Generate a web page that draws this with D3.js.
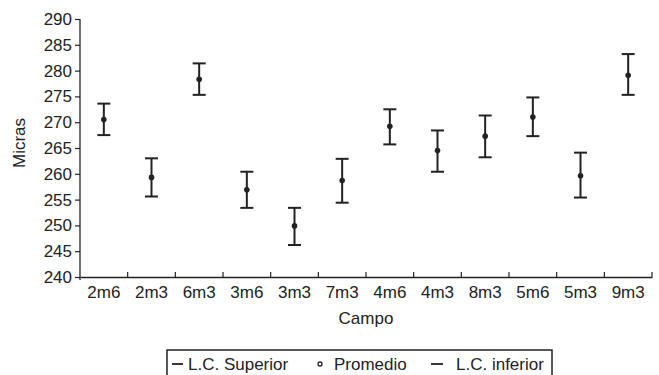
<!DOCTYPE html>
<html>
<head>
<meta charset="utf-8">
<script src="https://cdn.jsdelivr.net/npm/d3@7/dist/d3.min.js"></script>
<style>
  body { margin: 0; background: #fff; }
  svg text { font-family: "Liberation Sans", Arial, sans-serif; fill: #222; }
</style>
</head>
<body>
<svg id="chart" width="659" height="375"></svg>
<script>
const campos = ['2m6', '2m3', '6m3', '3m6', '3m3', '7m3', '4m6', '4m3', '8m3', '5m6', '5m3', '9m3'];
const promedio = [270.5, 259.3, 278.3, 256.9, 249.9, 258.7, 269.2, 264.5, 267.3, 271.0, 259.6, 279.1];
const lcSuperior = [273.6, 263.0, 281.4, 260.4, 253.4, 262.9, 272.5, 268.4, 271.3, 274.8, 264.1, 283.2];
const lcInferior = [267.5, 255.6, 275.3, 253.4, 246.2, 254.4, 265.7, 260.4, 263.2, 267.3, 255.4, 275.3];
const yTicks = [240, 245, 250, 255, 260, 265, 270, 275, 280, 285, 290];

const svg = d3.select('#chart');
const ink = '#222';
const fs = '17px';

const x = d3.scaleBand().domain(campos).range([80, 652]);
const y = d3.scaleLinear().domain([240, 290]).range([277, 19]);

// Y axis
const yAxis = svg.append('g')
  .attr('transform', 'translate(80,0)')
  .call(d3.axisLeft(y).tickValues(yTicks).tickSize(5).tickSizeOuter(0).tickPadding(3));
yAxis.select('.domain').attr('stroke', ink).attr('stroke-width', 1.3).attr('d', 'M0,19V280');
yAxis.selectAll('line').attr('stroke', ink).attr('stroke-width', 1.2);
yAxis.selectAll('text').style('font-size', fs).attr('fill', ink);

// X axis, ticks point inward
const xAxis = svg.append('g')
  .attr('transform', 'translate(0,277)')
  .call(d3.axisBottom(x).tickSize(0).tickPadding(9));
xAxis.select('.domain').attr('stroke', ink).attr('stroke-width', 1.3);
xAxis.selectAll('text').style('font-size', fs).attr('fill', ink);
xAxis.selectAll('.sep')
  .data(campos)
  .enter().append('line')
  .attr('class', 'sep')
  .attr('x1', d => x(d) + x.bandwidth())
  .attr('x2', d => x(d) + x.bandwidth())
  .attr('y1', 0).attr('y2', -5)
  .attr('stroke', ink).attr('stroke-width', 1.2);

// axis titles
svg.append('text')
  .attr('transform', 'translate(25,143) rotate(-90)')
  .attr('text-anchor', 'middle')
  .style('font-size', fs)
  .text('Micras');
svg.append('text')
  .attr('x', (80 + 652) / 2).attr('y', 324)
  .attr('text-anchor', 'middle')
  .style('font-size', fs)
  .text('Campo');

// error bars
const cx = c => x(c) + x.bandwidth() / 2;
const capW = 6.5;
const bars = svg.append('g').selectAll('g')
  .data(campos)
  .enter().append('g');
bars.append('line')
  .attr('x1', cx).attr('x2', cx)
  .attr('y1', (d, i) => y(lcSuperior[i])).attr('y2', (d, i) => y(lcInferior[i]))
  .attr('stroke', ink).attr('stroke-width', 2);
bars.append('line')
  .attr('x1', d => cx(d) - capW).attr('x2', d => cx(d) + capW)
  .attr('y1', (d, i) => y(lcSuperior[i])).attr('y2', (d, i) => y(lcSuperior[i]))
  .attr('stroke', ink).attr('stroke-width', 2);
bars.append('line')
  .attr('x1', d => cx(d) - capW).attr('x2', d => cx(d) + capW)
  .attr('y1', (d, i) => y(lcInferior[i])).attr('y2', (d, i) => y(lcInferior[i]))
  .attr('stroke', ink).attr('stroke-width', 2);
bars.append('circle')
  .attr('cx', cx).attr('cy', (d, i) => y(promedio[i]))
  .attr('r', 2.8).attr('fill', ink);

// legend
const legend = svg.append('g');
legend.append('rect')
  .attr('x', 167).attr('y', 350).attr('width', 385).attr('height', 40)
  .attr('fill', 'none').attr('stroke', ink).attr('stroke-width', 1.5);
const ly = 364;
legend.append('line').attr('x1', 172).attr('x2', 183).attr('y1', ly).attr('y2', ly)
  .attr('stroke', ink).attr('stroke-width', 1.8);
legend.append('text').attr('x', 188).attr('y', ly + 6).style('font-size', fs).text('L.C. Superior');
legend.append('circle').attr('cx', 320).attr('cy', ly).attr('r', 2).attr('fill', 'none')
  .attr('stroke', ink).attr('stroke-width', 1.3);
legend.append('text').attr('x', 334).attr('y', ly + 6).style('font-size', fs).text('Promedio');
legend.append('line').attr('x1', 431).attr('x2', 443).attr('y1', ly).attr('y2', ly)
  .attr('stroke', ink).attr('stroke-width', 1.8);
legend.append('text').attr('x', 456).attr('y', ly + 6).style('font-size', fs).text('L.C. inferior');
</script>
</body>
</html>
